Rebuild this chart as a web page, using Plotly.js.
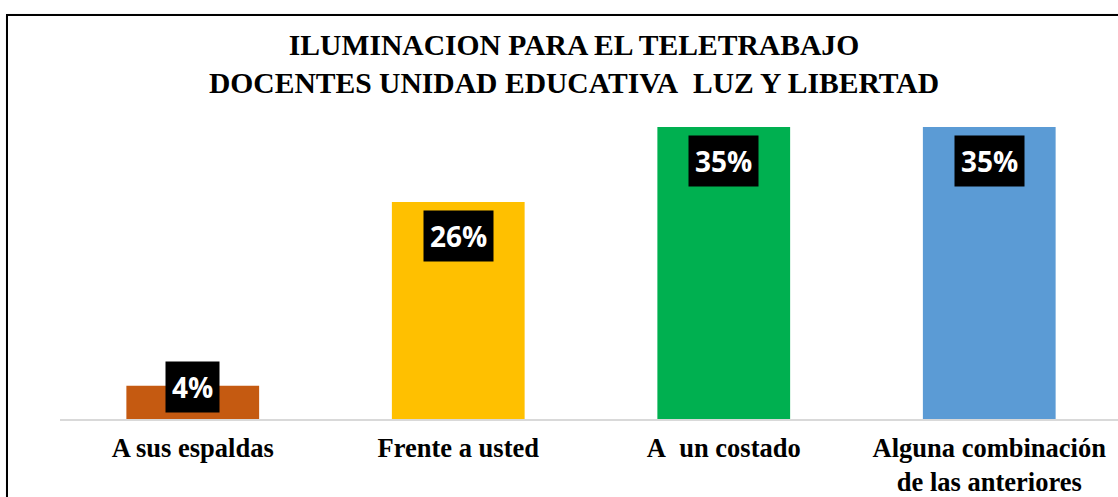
<!DOCTYPE html>
<html>
<head>
<meta charset="utf-8">
<script src="https://cdn.plot.ly/plotly-3.0.1.min.js"></script>
<style>
  html, body { margin: 0; padding: 0; overflow: hidden; background: #fff; width: 1118px; height: 497px; }
  #wrap { position: relative; width: 1118px; height: 497px; overflow: hidden; }
  #chart { position: absolute; left: 0; top: 0; width: 1122px; height: 497px; }
  #frame { position: absolute; left: 6px; top: 14px; width: 1200px; height: 600px;
           border: 2px solid #000; box-shadow: 1px 1px 2px #999; pointer-events: none; }
</style>
</head>
<body>
<div id="wrap">
  <div id="chart"></div>
  <div id="frame"></div>
</div>
<script>
const categories = ['A sus espaldas', 'Frente a usted', 'A&nbsp; un costado', 'Alguna combinación<br>de las anteriores'];
const values = [4, 26, 35, 35];
const valueLabels = ['4%', '26%', '35%', '35%'];
const barColors = ['#C55A11', '#FFC000', '#00B050', '#5B9BD5'];
const titleText = 'ILUMINACION PARA EL TELETRABAJO<br>DOCENTES UNIDAD EDUCATIVA&nbsp; LUZ Y LIBERTAD';

const serif = 'Liberation Serif';
const plotH = 497 - 85 - 78;
const yMax = 40.03;
const pxPer = plotH / yMax;

const annotations = categories.map((c, i) => {
  const fits = values[i] * pxPer > 8 + 48 + 6;
  return {
    x: c, y: fits ? values[i] : 0, xref: 'x', yref: 'y',
    yanchor: fits ? 'top' : 'bottom', yshift: fits ? -8 : 6,
    text: valueLabels[i], showarrow: false,
    bgcolor: '#000000', borderpad: 6,
    font: { family: 'Open Sans', size: 28, color: '#ffffff', weight: 700 }
  };
});

const data = [{
  type: 'bar', x: categories, y: values,
  marker: { color: barColors, line: { width: 0 } },
  hoverinfo: 'none'
}];

const layout = {
  width: 1122, height: 497,
  margin: { l: 60, r: 0, t: 85, b: 78, pad: 0 },
  paper_bgcolor: '#ffffff', plot_bgcolor: '#ffffff',
  showlegend: false, bargap: 0.5,
  title: {
    text: titleText, x: 574 / 1122, xanchor: 'center', xref: 'container',
    y: 1 - 55 / 497, yanchor: 'middle', yref: 'container',
    font: { family: serif, size: 29.6, color: '#000000', weight: 700 }
  },
  xaxis: {
    type: 'category', range: [-0.5, 3.5],
    showline: true, linecolor: '#D9D9D9', linewidth: 2,
    ticks: '', showgrid: false, zeroline: false,
    ticklabelstandoff: 4,
    tickfont: { family: serif, size: 26.5, color: '#000000', weight: 700 },
    fixedrange: true
  },
  yaxis: {
    range: [0, yMax], showgrid: false, zeroline: false, showticklabels: false,
    showline: false, ticks: '', fixedrange: true
  },
  annotations: annotations
};

Plotly.newPlot('chart', data, layout, { displayModeBar: false, staticPlot: true });
</script>
</body>
</html>
